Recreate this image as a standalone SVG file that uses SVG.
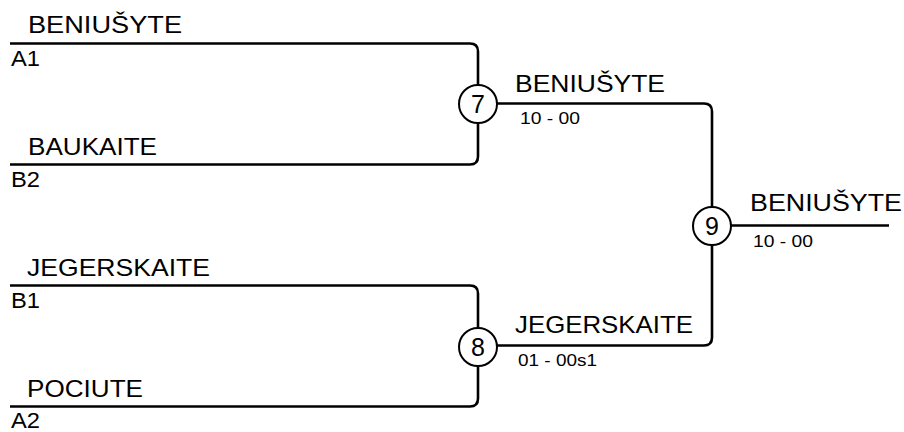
<svg xmlns="http://www.w3.org/2000/svg" width="904" height="432" viewBox="0 0 904 432">
<style>
.ln{fill:none;stroke:#000;stroke-width:2.6}
.c{fill:#fff;stroke:#000;stroke-width:2}
.nm{font-family:"Liberation Sans",Arial,sans-serif;font-size:24px;fill:#000}
.sd{font-family:"Liberation Sans",Arial,sans-serif;font-size:22px;fill:#000}
.sc{font-family:"Liberation Sans",Arial,sans-serif;font-size:16px;fill:#000}
.num{font-family:"Liberation Sans",Arial,sans-serif;font-size:25px;fill:#000;text-anchor:middle}
</style>
<rect width="904" height="432" fill="#fff"/>
<g id="connectors">
<path class="ln" d="M10,43.5 H470 Q478,43.5 478,51.5 V85"/>
<path class="ln" d="M10,164.5 H470 Q478,164.5 478,156.5 V123"/>
<path class="ln" d="M497,103.5 H704 Q712,103.5 712,111.5 V207"/>
<path class="ln" d="M10,285.5 H470 Q478,285.5 478,293.5 V328"/>
<path class="ln" d="M10,406.5 H470 Q478,406.5 478,398.5 V366"/>
<path class="ln" d="M497,345.5 H704 Q712,345.5 712,337.5 V245"/>
<path class="ln" d="M731,225.5 H889"/>
</g>
<g id="entry-a1">
<text class="nm" x="28" y="33" textLength="154" lengthAdjust="spacingAndGlyphs">BENIUŠYTE</text>
<text class="sd" x="11" y="66" textLength="29" lengthAdjust="spacingAndGlyphs">A1</text>
</g>
<g id="entry-b2">
<text class="nm" x="28" y="155" textLength="129" lengthAdjust="spacingAndGlyphs">BAUKAITE</text>
<text class="sd" x="11" y="187" textLength="29" lengthAdjust="spacingAndGlyphs">B2</text>
</g>
<g id="entry-b1">
<text class="nm" x="27" y="276" textLength="183" lengthAdjust="spacingAndGlyphs">JEGERSKAITE</text>
<text class="sd" x="11" y="308" textLength="29" lengthAdjust="spacingAndGlyphs">B1</text>
</g>
<g id="entry-a2">
<text class="nm" x="27" y="397" textLength="116" lengthAdjust="spacingAndGlyphs">POCIUTE</text>
<text class="sd" x="11" y="428" textLength="29" lengthAdjust="spacingAndGlyphs">A2</text>
</g>
<g id="match-7">
<circle class="c" cx="478" cy="104" r="19"/>
<text class="num" x="478" y="113">7</text>
<text class="nm" x="515" y="92" textLength="150" lengthAdjust="spacingAndGlyphs">BENIUŠYTE</text>
<text class="sc" x="520" y="124" textLength="60" lengthAdjust="spacingAndGlyphs">10 - 00</text>
</g>
<g id="match-8">
<circle class="c" cx="478" cy="347" r="19"/>
<text class="num" x="478" y="356">8</text>
<text class="nm" x="515" y="333" textLength="178" lengthAdjust="spacingAndGlyphs">JEGERSKAITE</text>
<text class="sc" x="518" y="366" textLength="79" lengthAdjust="spacingAndGlyphs">01 - 00s1</text>
</g>
<g id="match-9">
<circle class="c" cx="712" cy="226" r="19"/>
<text class="num" x="712" y="235">9</text>
<text class="nm" x="750" y="211" textLength="152" lengthAdjust="spacingAndGlyphs">BENIUŠYTE</text>
<text class="sc" x="753" y="247" textLength="60" lengthAdjust="spacingAndGlyphs">10 - 00</text>
</g>
</svg>
